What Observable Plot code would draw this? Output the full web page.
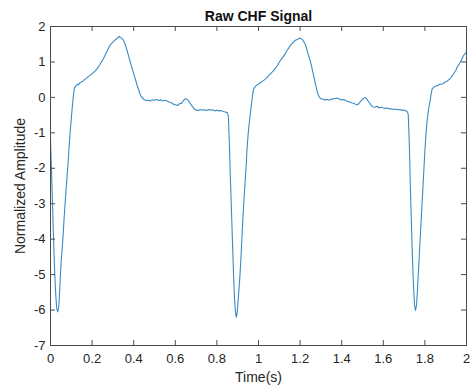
<!DOCTYPE html>
<html><head><meta charset="utf-8">
<script src="https://cdn.jsdelivr.net/npm/d3@7"></script>
<script src="https://cdn.jsdelivr.net/npm/@observablehq/plot@0.6"></script>
<style>body{margin:0;background:#fff;}</style>
</head><body><div id="chart"></div>
<script>
const title = "Raw CHF Signal";
const xLabel = "Time(s)";
const yLabel = "Normalized Amplitude";
const xTicks = [0, 0.2, 0.4, 0.6, 0.8, 1, 1.2, 1.4, 1.6, 1.8, 2];
const xTickLabels = ["0", "0.2", "0.4", "0.6", "0.8", "1", "1.2", "1.4", "1.6", "1.8", "2"];
const yTicks = [-7, -6, -5, -4, -3, -2, -1, 0, 1, 2];
const yTickLabels = ["-7", "-6", "-5", "-4", "-3", "-2", "-1", "0", "1", "2"];

// [time (s), normalized amplitude]
const chfSignal = [
[0.000,-1.20],[0.005,-2.10],[0.010,-3.10],[0.015,-4.05],[0.020,-4.90],[0.025,-5.55],[0.030,-5.95],[0.035,-6.05],
[0.040,-5.90],[0.045,-5.35],[0.050,-4.75],[0.055,-4.35],[0.060,-3.95],[0.065,-3.45],[0.070,-3.00],[0.075,-2.60],
[0.080,-2.20],[0.085,-1.80],[0.090,-1.35],[0.095,-0.95],[0.100,-0.60],[0.105,-0.25],[0.110,0.05],[0.115,0.27],
[0.120,0.31],[0.125,0.35],[0.130,0.37],[0.135,0.36],[0.140,0.41],[0.145,0.42],[0.150,0.44],[0.155,0.45],
[0.160,0.48],[0.165,0.51],[0.170,0.53],[0.175,0.55],[0.180,0.58],[0.185,0.60],[0.190,0.62],[0.195,0.65],
[0.200,0.67],[0.205,0.70],[0.210,0.72],[0.215,0.75],[0.220,0.78],[0.225,0.82],[0.230,0.86],[0.235,0.90],
[0.240,0.95],[0.245,1.00],[0.250,1.05],[0.255,1.10],[0.260,1.16],[0.265,1.22],[0.270,1.28],[0.275,1.34],
[0.280,1.40],[0.285,1.46],[0.290,1.50],[0.295,1.53],[0.300,1.56],[0.305,1.58],[0.310,1.62],[0.315,1.64],
[0.320,1.67],[0.325,1.69],[0.330,1.72],[0.335,1.69],[0.340,1.68],[0.345,1.65],[0.350,1.62],[0.355,1.56],
[0.360,1.48],[0.365,1.38],[0.370,1.28],[0.375,1.18],[0.380,1.07],[0.385,0.97],[0.390,0.87],[0.395,0.77],
[0.400,0.67],[0.405,0.57],[0.410,0.47],[0.415,0.37],[0.420,0.28],[0.425,0.19],[0.430,0.10],[0.435,0.04],
[0.440,0.00],[0.445,-0.04],[0.450,-0.06],[0.460,-0.09],[0.470,-0.08],[0.480,-0.10],[0.490,-0.07],[0.500,-0.08],
[0.510,-0.06],[0.520,-0.09],[0.530,-0.07],[0.540,-0.10],[0.550,-0.08],[0.560,-0.10],[0.570,-0.13],[0.580,-0.15],
[0.590,-0.19],[0.600,-0.21],[0.610,-0.23],[0.620,-0.18],[0.630,-0.17],[0.640,-0.08],[0.650,-0.04],[0.660,-0.07],
[0.670,-0.15],[0.680,-0.24],[0.690,-0.32],[0.700,-0.36],[0.710,-0.37],[0.720,-0.34],[0.730,-0.36],[0.740,-0.35],
[0.750,-0.37],[0.760,-0.34],[0.770,-0.36],[0.780,-0.35],[0.790,-0.38],[0.800,-0.36],[0.810,-0.38],[0.820,-0.37],
[0.830,-0.40],[0.840,-0.41],[0.850,-0.43],[0.855,-0.52],
[0.860,-1.30],[0.865,-2.30],[0.870,-3.20],[0.875,-4.10],[0.880,-5.00],[0.885,-5.70],[0.890,-6.10],[0.893,-6.20],
[0.897,-6.10],[0.900,-5.90],[0.905,-5.50],[0.910,-5.10],[0.915,-4.60],[0.920,-4.00],[0.925,-3.40],[0.930,-2.90],
[0.935,-2.45],[0.940,-2.00],[0.945,-1.45],[0.950,-1.05],[0.955,-0.75],[0.960,-0.50],[0.965,-0.25],[0.970,0.00],
[0.975,0.20],[0.980,0.27],[0.985,0.31],[0.990,0.34],[0.995,0.36],[1.000,0.37],[1.005,0.40],[1.010,0.42],
[1.015,0.44],[1.020,0.46],[1.025,0.48],[1.030,0.50],[1.035,0.53],[1.040,0.55],[1.045,0.59],[1.050,0.62],
[1.055,0.65],[1.060,0.68],[1.065,0.71],[1.070,0.74],[1.075,0.77],[1.080,0.81],[1.085,0.85],[1.090,0.89],
[1.095,0.94],[1.100,0.99],[1.105,1.04],[1.110,1.08],[1.115,1.12],[1.120,1.15],[1.125,1.20],[1.130,1.25],
[1.135,1.30],[1.140,1.35],[1.145,1.39],[1.150,1.44],[1.155,1.48],[1.160,1.51],[1.165,1.55],[1.170,1.57],
[1.175,1.60],[1.180,1.62],[1.185,1.63],[1.190,1.65],[1.195,1.66],[1.200,1.68],[1.205,1.65],[1.210,1.64],
[1.215,1.60],[1.220,1.55],[1.225,1.50],[1.230,1.40],[1.235,1.30],[1.240,1.20],[1.245,1.10],[1.250,1.00],
[1.255,0.88],[1.260,0.75],[1.265,0.62],[1.270,0.48],[1.275,0.35],[1.280,0.22],[1.285,0.11],[1.290,0.04],
[1.295,-0.01],[1.300,-0.04],[1.310,-0.05],[1.320,-0.07],[1.330,-0.06],[1.340,-0.08],[1.350,-0.05],[1.360,-0.04],
[1.370,-0.03],[1.380,-0.02],[1.390,-0.05],[1.400,-0.07],[1.410,-0.06],[1.420,-0.09],[1.430,-0.12],[1.440,-0.13],
[1.450,-0.16],[1.460,-0.17],[1.470,-0.21],[1.480,-0.19],[1.490,-0.12],[1.500,-0.05],[1.510,-0.01],[1.515,-0.01],
[1.520,-0.04],[1.530,-0.13],[1.540,-0.21],[1.550,-0.27],[1.560,-0.28],[1.570,-0.25],[1.580,-0.30],[1.590,-0.28],
[1.600,-0.30],[1.610,-0.31],[1.620,-0.30],[1.630,-0.33],[1.640,-0.32],[1.650,-0.34],[1.660,-0.33],[1.670,-0.35],
[1.680,-0.34],[1.690,-0.36],[1.700,-0.36],[1.710,-0.38],[1.715,-0.40],[1.720,-0.48],
[1.725,-1.30],[1.730,-2.50],[1.735,-3.50],[1.740,-4.50],[1.745,-5.30],[1.750,-5.85],[1.755,-6.01],[1.760,-5.85],
[1.765,-5.35],[1.770,-4.80],[1.775,-4.25],[1.780,-3.70],[1.785,-3.15],[1.790,-2.60],[1.795,-2.05],[1.800,-1.50],
[1.805,-1.05],[1.810,-0.70],[1.815,-0.45],[1.820,-0.25],[1.825,-0.10],[1.830,0.10],[1.835,0.24],[1.840,0.27],
[1.845,0.30],[1.850,0.31],[1.855,0.33],[1.860,0.33],[1.865,0.35],[1.870,0.36],[1.875,0.37],[1.880,0.37],
[1.885,0.38],[1.890,0.40],[1.895,0.42],[1.900,0.44],[1.905,0.45],[1.910,0.47],[1.915,0.50],[1.920,0.52],
[1.925,0.56],[1.930,0.60],[1.935,0.64],[1.940,0.68],[1.945,0.73],[1.950,0.78],[1.955,0.85],[1.960,0.90],
[1.965,0.94],[1.970,0.99],[1.975,1.05],[1.980,1.12],[1.985,1.17],[1.990,1.21],[1.995,1.25],[2.000,1.27]
];

const W = 471, H = 387, mL = 50, mR = 5, mT = 26, mB = 42;
const fw = W - mL - mR, fh = H - mT - mB;
const axisColor = "#4a4a4a", textColor = "#262626";

const chart = Plot.plot({
  width: W, height: H,
  marginLeft: mL, marginRight: mR, marginTop: mT, marginBottom: mB,
  style: {fontFamily: "'Liberation Sans', Arial, sans-serif", fontSize: "13px", color: textColor, background: "#fff"},
  x: {domain: [0, 2]},
  y: {domain: [-7, 2]},
  marks: [
    Plot.line(chfSignal, {x: d => d[0], y: d => d[1], stroke: "#3a8ac2", strokeWidth: 1.1, clip: true}),
    Plot.frame({stroke: axisColor}),
    Plot.tickX(xTicks, {x: d => d, insetTop: fh - 5, stroke: axisColor}),
    Plot.tickX(xTicks, {x: d => d, insetBottom: fh - 5, stroke: axisColor}),
    Plot.tickY(yTicks, {y: d => d, insetRight: fw - 5, stroke: axisColor}),
    Plot.tickY(yTicks, {y: d => d, insetLeft: fw - 5, stroke: axisColor}),
    Plot.axisX(xTicks, {tickSize: 0, tickPadding: 8, tickFormat: d => xTickLabels[xTicks.indexOf(d)], label: null}),
    Plot.axisY(yTicks, {tickSize: 0, tickPadding: 5, tickFormat: d => yTickLabels[yTicks.indexOf(d)], label: null}),
    Plot.text([title], {frameAnchor: "top", dy: -10, lineAnchor: "middle", textAnchor: "middle", fontWeight: "bold", fontSize: 14, fill: "#111"}),
    Plot.text([xLabel], {frameAnchor: "bottom", dy: 32, lineAnchor: "middle", textAnchor: "middle", fontSize: 14}),
    Plot.text([yLabel], {frameAnchor: "left", dx: -30, lineAnchor: "middle", textAnchor: "middle", rotate: -90, fontSize: 14})
  ]
});
document.getElementById("chart").append(chart);
</script>
</body></html>
